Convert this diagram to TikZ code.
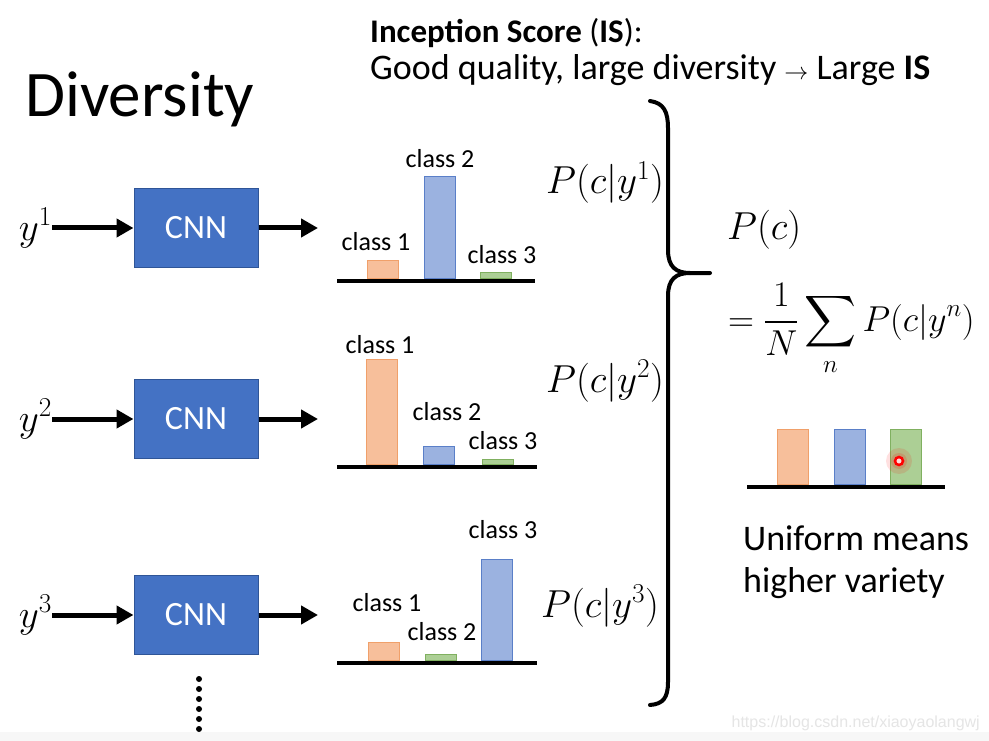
\RequirePackage{fix-cm}
\documentclass[tikz,border=0pt]{standalone}
\usepackage{fontspec}
\setmainfont{Carlito}
\newfontfamily\urlfont{Liberation Sans}
\DeclareFontShape{OMX}{cmex}{m}{n}{<-> cmex10}{}
\usetikzlibrary{positioning, arrows.meta}

\definecolor{cnnfill}{HTML}{4472C4}
\definecolor{cnnline}{HTML}{2F5597}
\definecolor{orngfill}{HTML}{F7BF9B}
\definecolor{orngline}{HTML}{F0A06A}
\definecolor{bluefill}{HTML}{9BB2E0}
\definecolor{blueline}{HTML}{5A7FC8}
\definecolor{grnfill}{HTML}{ACCF95}
\definecolor{grnline}{HTML}{80B060}

\tikzset{
  cnn/.style={draw=cnnline, fill=cnnfill, line width=1pt, minimum width=124pt,
              minimum height=79pt, text=white, font=\fontsize{34}{38}\selectfont},
  flow/.style={-{Triangle[length=17pt, width=18pt]}, line width=5pt},
  bar/.style={draw=#1line, fill=#1fill, line width=1pt, minimum width=31pt,
              inner sep=0pt, anchor=south},
  axis/.style={line width=4pt},
  cls/.style={font=\fontsize{26}{30}\selectfont, inner sep=0pt},
  prob/.style={font=\fontsize{39}{44}\selectfont, inner sep=0pt, anchor=base west},
  head/.style={font=\fontsize{33}{38}\selectfont, inner sep=0pt, anchor=base west},
  note/.style={font=\fontsize{36}{42}\selectfont, inner sep=0pt, anchor=base west},
}

\begin{document}
\begin{tikzpicture}[x=1pt, y=-1pt]
  \useasboundingbox (0,0) rectangle (989,741);
  \fill[white] (0,0) rectangle (989,741);
  \fill[black!3] (0,732) rectangle (989,741);

  % titles
  \node[inner sep=0pt, anchor=base west, font=\fontsize{65}{72}\selectfont] (div) at (25,117) {Diversity};
  \node[head] (is) at (370,43) {\textbf{Inception Score} (\textbf{IS}):};
  \node[head, font=\fontsize{36}{40}\selectfont] (good) at (370,80) {Good quality, large diversity {\fontsize{24}{26}\selectfont$\rightarrow$} Large \textbf{IS}};

  % generator outputs through the classifier
  \foreach \i/\y in {1/228, 2/419, 3/615} {
    \node[cnn] (cnn\i) at (196,\y) {CNN};
    \node[prob, anchor=east] (y\i) at (52,\y) {$y^{\i}$};
    \coordinate (out\i) at (318,\y);
    \draw[flow] (y\i) -- (cnn\i);
    \draw[flow] (cnn\i) -- (out\i);
  }
  \foreach \k in {0,...,5}
    \fill (199,679+\k*10) circle (3pt);

  % chart 1
  \draw[axis] (337,281) -- (535,281);
  \node[bar=orng, minimum height=18pt] (b1a) at (383,279) {};
  \node[bar=blue, minimum height=102pt] (b1b) at (439.5,279) {};
  \node[bar=grn, minimum height=6pt] (b1c) at (495.5,279) {};
  \node[cls] (l1a) at (376,242) {class 1};
  \node[cls] (l1b) at (440,159) {class 2};
  \node[cls] (l1c) at (502,255) {class 3};
  \node[prob] (p1) at (546,194) {$P(c|y^1)$};

  % chart 2
  \draw[axis] (337,467) -- (537,467);
  \node[bar=orng, minimum height=105pt] (b2a) at (382,465) {};
  \node[bar=blue, minimum height=18pt] (b2b) at (438.5,465) {};
  \node[bar=grn, minimum height=5pt] (b2c) at (497.5,465) {};
  \node[cls] (l2a) at (380,345) {class 1};
  \node[cls] (l2b) at (447,412) {class 2};
  \node[cls] (l2c) at (503,441) {class 3};
  \node[prob] (p2) at (546,392) {$P(c|y^2)$};

  % chart 3
  \draw[axis] (337,663) -- (537,663);
  \node[bar=orng, minimum height=18pt] (b3a) at (383.5,661) {};
  \node[bar=grn, minimum height=6pt] (b3b) at (441,661) {};
  \node[bar=blue, minimum height=101pt] (b3c) at (497,661) {};
  \node[cls] (l3a) at (387,603) {class 1};
  \node[cls] (l3b) at (442,632) {class 2};
  \node[cls] (l3c) at (503,530) {class 3};
  \node[prob] (p3) at (541,617) {$P(c|y^3)$};

  % brace
  \draw[line width=4pt, line cap=round]
    (650,101) .. controls (664,103) and (668,112) .. (668,128) -- (668,250)
    .. controls (668,267) and (676,273) .. (690,273) -- (710,273);
  \draw[line width=4pt, line cap=round]
    (690,273) .. controls (676,273) and (668,279) .. (668,296) -- (668,682)
    .. controls (668,698) and (663,704) .. (650,705);

  % average distribution
  \node[prob] (pc) at (727,240) {$P(c)$};
  \node[prob, font=\fontsize{36}{40}\selectfont] (avg) at (728,331) {$\displaystyle =\frac{1}{N}\sum_n P(c|y^n)$};
  \draw[axis] (747,487) -- (945,487);
  \node[bar=orng, minimum height=55pt] (u1) at (793,485) {};
  \node[bar=blue, minimum height=55pt] (u2) at (850,485) {};
  \node[bar=grn, minimum height=55pt] (u3) at (905.5,485) {};
  \fill[red, opacity=0.12] (899,461) circle (13pt);
  \fill[red, opacity=0.15] (899,461) circle (8pt);
  \node[circle, draw=red, fill=red!15, line width=2.5pt, minimum size=8pt, inner sep=0pt] (dot) at (899,461) {};
  \node[note] (uni1) at (743,550) {Uniform means};
  \node[note] (uni2) at ([yshift=-42pt]uni1.base west) {higher variety};

  \node[inner sep=0pt, anchor=base east, text=black!10, font=\urlfont\fontsize{16}{18}\selectfont] (url) at (980,727) {https://blog.csdn.net/xiaoyaolangwj};
\end{tikzpicture}
\end{document}
